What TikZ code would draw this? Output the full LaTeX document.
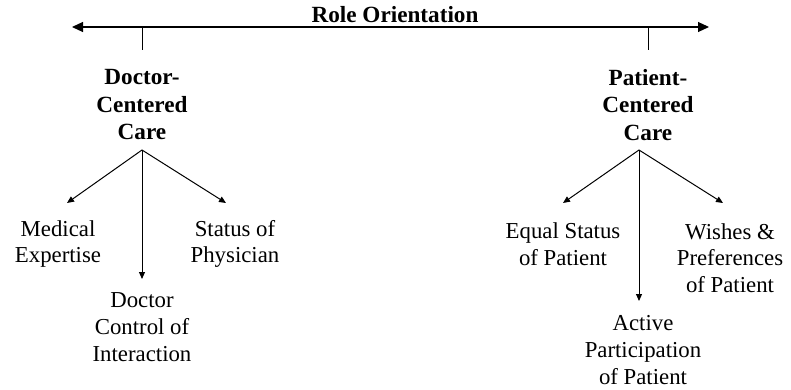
\documentclass[tikz,border=0pt]{standalone}
\usepackage{fontspec}
\setmainfont{Liberation Serif}
\usetikzlibrary{arrows.meta}
\begin{document}
\begin{tikzpicture}[x=1pt,y=-1pt,
  head/.style={font=\fontsize{23.2}{27.5}\selectfont\bfseries,align=center,inner sep=0pt},
  leaf/.style={font=\fontsize{22.8}{26.8}\selectfont,align=center,inner sep=0pt},
  axis/.style={line width=1.1pt,{Triangle[length=11pt,width=10pt]}-{Triangle[length=11pt,width=10pt]}},
  tick/.style={line width=0.8pt},
  branch/.style={line width=1pt,-{Triangle[length=7pt,width=6pt]}}]
\useasboundingbox (0,0) rectangle (791,390);

% orientation axis
\node[head] (title) at (395,15) {Role Orientation};
\coordinate (axL) at (72,27);
\coordinate (axR) at (709,27);
\draw[axis] (axL) -- (axR);
\coordinate (tkL) at (142,27);
\coordinate (tkLb) at (142,50);
\coordinate (tkR) at (648,27);
\coordinate (tkRb) at (648,50);
\draw[tick] (tkL) -- (tkLb);
\draw[tick] (tkR) -- (tkRb);

% doctor-centered side
\node[head] (dc) at (142,105) {Doctor-\\Centered\\Care};
\coordinate (dcroot) at (142,150);
\node[leaf] (med) at (58,244) {Medical\\Expertise};
\node[leaf] (stat) at (235,244) {Status of\\Physician};
\node[leaf] (ctrl) at (142,327) {Doctor\\Control of\\Interaction};
\coordinate (medtip) at (67,203);
\coordinate (stattip) at (226,203);
\coordinate (ctrltip) at (142,279);
\draw[branch] (dcroot) -- (medtip);
\draw[branch] (dcroot) -- (stattip);
\draw[branch] (dcroot) -- (ctrltip);

% patient-centered side
\node[head] (pc) at (648,105) {Patient-\\Centered\\Care};
\coordinate (pcroot) at (639,150);
\node[leaf] (equal) at (563,244) {Equal Status\\of Patient};
\node[leaf] (wish) at (730,258) {Wishes \&\\Preferences\\of Patient};
\node[leaf] (act) at (643,350) {Active\\Participation\\of Patient};
\coordinate (equaltip) at (563,203);
\coordinate (wishtip) at (723,203);
\coordinate (acttip) at (639,301);
\draw[branch] (pcroot) -- (equaltip);
\draw[branch] (pcroot) -- (wishtip);
\draw[branch] (pcroot) -- (acttip);
\end{tikzpicture}
\end{document}
